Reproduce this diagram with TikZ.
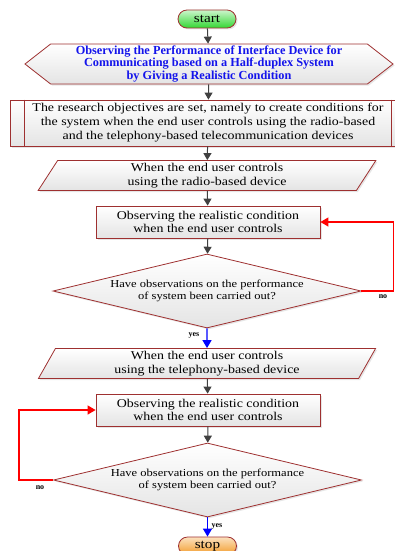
\documentclass[tikz,border=0pt]{standalone}
\usepackage{fontspec}
\setmainfont[FakeStretch=1.17]{Liberation Serif}
\newfontfamily\titlefont{Liberation Serif}
\usetikzlibrary{shapes.geometric,shapes.symbols,arrows.meta,shadows}

\definecolor{bordo}{RGB}{158,48,48}
\definecolor{boxgrey}{RGB}{228,228,228}
\definecolor{arrowgrey}{RGB}{64,64,64}
\definecolor{startgreen}{RGB}{50,215,50}
\definecolor{stoporange}{RGB}{242,155,40}
\definecolor{titleblue}{RGB}{20,20,235}

\tikzset{
  base/.style={draw=bordo, line width=0.8pt, top color=white, bottom color=boxgrey,
    drop shadow={opacity=0.2, shadow xshift=1.5pt, shadow yshift=-1.5pt},
    align=center, inner sep=1pt},
  terminal/.style={base, rounded corners=9pt, minimum width=58pt, minimum height=18pt,
    font=\fontsize{13}{13}\selectfont},
  prep/.style={base, signal, signal to=west and east, signal pointer angle=76,
    minimum width=368pt, minimum height=40pt, text=titleblue,
    font=\titlefont\bfseries\fontsize{12.3}{12.5}\selectfont},
  predef/.style={base, rectangle, minimum width=396pt, minimum height=46pt,
    font=\fontsize{11.9}{14}\selectfont},
  io/.style={base, trapezium, trapezium left angle=69, trapezium right angle=111,
    trapezium stretches=true, minimum width=338pt, minimum height=30pt,
    font=\fontsize{11.9}{14.5}\selectfont},
  process/.style={base, rectangle, minimum width=224pt, minimum height=32pt,
    font=\fontsize{11.9}{13.5}\selectfont},
  decision/.style={base, diamond, aspect=4.16, inner sep=0pt,
    minimum width=308pt, minimum height=74pt,
    font=\fontsize{10.7}{11.8}\selectfont},
  flow/.style={arrowgrey, line width=1pt, -{Triangle[width=8pt,length=7pt]}},
  noline/.style={red, line width=1.3pt, -{Triangle[width=9pt,length=8pt]}},
  yesline/.style={blue, line width=1.3pt, -{Triangle[width=9pt,length=8pt]}},
  answer/.style={font=\titlefont\bfseries\fontsize{8}{8}\selectfont, inner sep=0pt}
}

\begin{document}
\begin{tikzpicture}[x=1pt, y=-1pt]
  \useasboundingbox (0,0) rectangle (394,551);

  % Bloco inicial
  \node[terminal, top color=startgreen!25, bottom color=startgreen] (start) at (207,19) {start};
  \node[prep] (title) at (209,64) {Observing the Performance of Interface Device for\\
    Communicating based on a Half-duplex System\\by Giving a Realistic Condition};
  \node[predef] (goal) at (208,123) {The research objectives are set, namely to create conditions for\\
    the system when the end user controls using the radio-based\\
    and the telephony-based telecommunication devices};
  \draw[bordo, line width=0.8pt] ([xshift=15pt]goal.north west) -- ([xshift=15pt]goal.south west);
  \draw[bordo, line width=0.8pt] ([xshift=-15pt]goal.north east) -- ([xshift=-15pt]goal.south east);

  % Radio
  \node[io] (radio) at (207,175.5) {When the end user controls\\using the radio-based device};
  \node[process] (obsA) at (208,222) {Observing the realistic condition\\when the end user controls};
  \node[decision] (askA) at (207,291) {Have observations on the performance\\of system been carried out?};

  % Telefonia
  \node[io] (phone) at (207,363.5) {When the end user controls\\using the telephony-based device};
  \node[process] (obsB) at (208,410) {Observing the realistic condition\\when the end user controls};
  \node[decision] (askB) at (207.5,480) {Have observations on the performance\\of system been carried out?};
  \node[terminal, top color=stoporange!30, bottom color=stoporange] (stop) at (207.5,546) {stop};

  % Ligacoes
  \draw[flow] (start) -- (title);
  \draw[flow] (title) -- (goal);
  \draw[flow] (goal) -- (radio);
  \draw[flow] (radio) -- (obsA);
  \draw[flow] (obsA) -- (askA);
  \draw[yesline] (askA) -- (phone);
  \draw[flow] (phone) -- (obsB);
  \draw[flow] (obsB) -- (askB);
  \draw[yesline] (askB) -- (stop);

  \draw[noline] (askA.east) -- ++(32,0) |- (obsA.east);
  \draw[noline] (askB.west) -- ++(-34,0) |- (obsB.west);

  \node[answer] (noA) at (383,297) {no};
  \node[answer] (yesA) at (194,335) {yes};
  \node[answer] (noB) at (40,488) {no};
  \node[answer] (yesB) at (217,526) {yes};
\end{tikzpicture}
\end{document}
